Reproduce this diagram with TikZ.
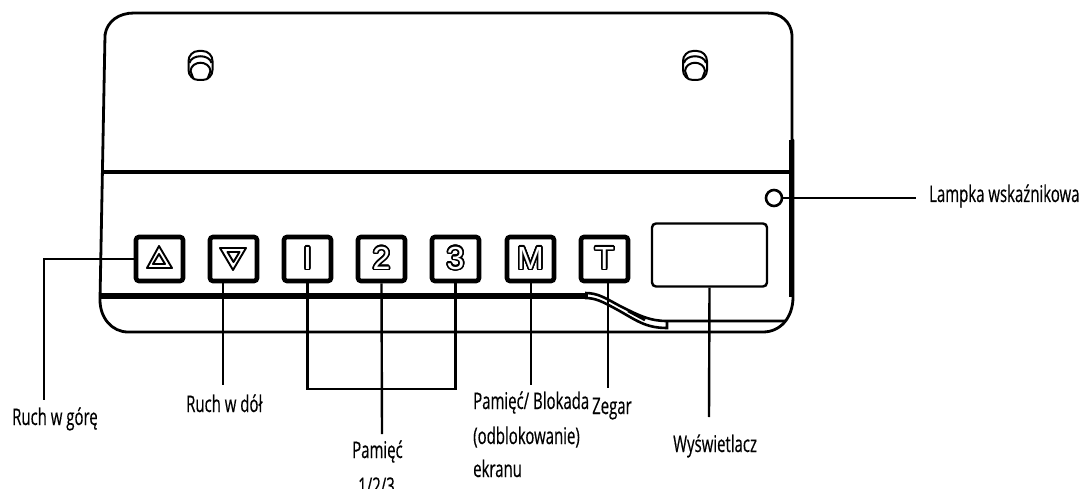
\documentclass[tikz,border=0pt]{standalone}
\usepackage{fontspec}
\usepackage[copies]{contour}
\setmainfont{Open Sans}[FakeStretch=0.65,FakeBold=0.4]
\newfontfamily\keyfont{Liberation Sans}
\contourlength{1.5pt}
\contournumber{24}
\begin{document}
\begin{tikzpicture}[x=1pt,y=-1pt,font=\fontsize{23}{26}\selectfont]
    % Define the styles for the panel parts
    \tikzstyle{keybox} = [draw, line width=4.6pt, rounded corners=3pt, minimum width=47pt, minimum height=44pt, inner sep=0pt, font=\keyfont\fontsize{32}{32}\selectfont]
    \tikzstyle{leader} = [draw, line width=2.4pt]
    \tikzstyle{caption} = [anchor=base west, inner sep=0pt]
    \tikzstyle{edge} = [line width=2.8pt, line cap=round, line join=round]
    \tikzstyle{glyph} = [line width=1.9pt, line join=round]
    \tikzstyle{slot} = [line width=2pt]

    \useasboundingbox (0,0) rectangle (1084,489);

    % Outline of the panel
    \draw[edge] (105,35) .. controls (107,21) and (119,13) .. (134,13) -- (767,13)
        .. controls (781,13) and (791,22) .. (792,35) -- (792,140);
    \draw[edge] (105,35) -- (100,300) .. controls (100,318) and (112,332) .. (128,332)
        -- (763,332) .. controls (780,332) and (793,318) .. (793,297) -- (793,140);
    \draw[line width=4.5pt] (791,140) -- (791,297);
    \draw[line width=4.5pt] (101,172) -- (790,172);

    % Strip under the keys
    \draw[line width=6pt] (101,295.5) -- (588,295.5);
    \draw[line width=2.6pt] (585,293) .. controls (598,293) and (605,298) .. (620,306)
        .. controls (640,316) and (650,321) .. (667,321) -- (785,321);
    \draw[line width=2.6pt] (585,298) .. controls (596,298) and (603,302) .. (616,309)
        .. controls (636,320) and (645,328) .. (667,328) -- (667,321);
    \draw[line width=2.6pt] (628,311) -- (645,320);

    % Mounting slots
    \foreach \slotx in {200.5,695} {
        \draw[slot, rounded corners=10pt] (\slotx-12,51) rectangle (\slotx+12,80);
        \draw[slot] (\slotx-11,63) .. controls (\slotx-9,54) and (\slotx+9,54) .. (\slotx+11,63);
        \draw[slot] (\slotx-10,71) .. controls (\slotx-9,60) and (\slotx+9,60) .. (\slotx+10,71);
        \draw[slot] (\slotx-7,79) -- (\slotx-10,71) (\slotx+7,79) -- (\slotx+10,71);
    }

    % Keys
    \node[keybox] (keyup) at (159.5,259) {};
    \node[keybox] (keydown) at (233.5,259) {};
    \node[keybox] (keyone) at (307.5,259) {\contour{black}{\color{white}I}};
    \node[keybox] (keytwo) at (381.5,259) {\contour{black}{\color{white}2}};
    \node[keybox] (keythree) at (455.5,259) {\contour{black}{\color{white}3}};
    \node[keybox] (keymem) at (530.5,259) {\contour{black}{\color{white}M}};
    \node[keybox] (keyclock) at (604.5,259) {\contour{black}{\color{white}T}};

    % Arrows on the first two keys
    \draw[glyph] (159,246) -- (172,268) -- (147,268) -- cycle;
    \draw[glyph] (159,254) -- (165,264) -- (153,264) -- cycle;
    \draw[glyph] (233,270) -- (246,248) -- (220,248) -- cycle;
    \draw[glyph] (233.5,262) -- (239.5,252) -- (227.5,252) -- cycle;

    % Display and lamp
    \node[draw, line width=2.4pt, rounded corners=4pt, minimum width=115pt, minimum height=63pt, inner sep=0pt] (display) at (709.5,255) {};
    \node[draw, circle, line width=2.6pt, minimum size=16pt, inner sep=0pt] (lamp) at (774,198) {};

    % Captions
    \node[caption] (capup) at (12,425) {Ruch w górę};
    \node[caption] (capdown) at (186,412) {Ruch w dół};
    \node[caption] (capmemory) at (352,458) {Pamięć};
    \node[caption] (capnumbers) at (358,494) {1/2/3};
    \node[caption] (capmem) at (473,409) {Pamięć/ Blokada};
    \node[caption] (capunlock) at (473,444) {(odblokowanie)};
    \node[caption] (capscreen) at (473,477) {ekranu};
    \node[caption] (capclock) at (592,414) {Zegar};
    \node[caption] (capdisplay) at (673,452) {Wyświetlacz};
    \node[caption] (caplamp) at (929,202) {Lampka wskaźnikowa};

    % Ends of the leaders
    \coordinate (endup) at (44,400);
    \coordinate (enddown) at (223,385);
    \coordinate (joint) at (382,389);
    \coordinate (endmemory) at (382,434);
    \coordinate (endmem) at (531,385);
    \coordinate (endclock) at (608,388);
    \coordinate (enddisplay) at (709,417);
    \coordinate (endlamp) at (916,198);

    % Leaders from the keys to the captions
    \draw[leader] (keyup.west) -| (endup);
    \draw[leader] (keydown.south -| enddown) -- (enddown);
    \draw[leader] (keyone.south) |- (joint) -| (keythree.south);
    \draw[leader] (keytwo.south) -- (endmemory);
    \draw[leader] (keymem.south -| endmem) -- (endmem);
    \draw[leader] (keyclock.south -| endclock) -- (endclock);
    \draw[leader] (display.south) -- (enddisplay);
    \draw[leader] (lamp.east) -- (endlamp);
\end{tikzpicture}
\end{document}
